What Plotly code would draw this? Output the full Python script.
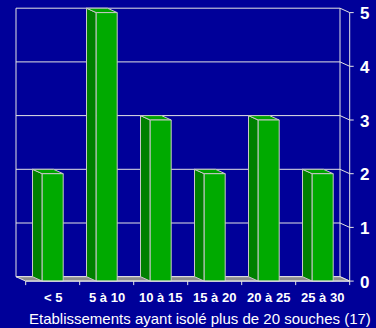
import plotly.graph_objects as go

# ---- data ----
categories = ["< 5", "5 à 10", "10 à 15", "15 à 20", "20 à 25", "25 à 30"]
values = [2, 5, 3, 2, 3, 2]
y_ticks = [0, 1, 2, 3, 4, 5]
title_text = "Etablissements ayant isolé plus de 20 souches (17)"

# ---- styling / projection (data units) ----
W, H = 376, 328
PX_X = 54.0          # px per category
PX_Y = 53.7          # px per value unit
X0_PX = 16.0         # pixel of back wall left edge (x = -0.5)
Y0_PX = 276.7        # pixel of back floor (y = 0)
DX = 9.7 / PX_X      # depth offset (towards viewer)
DY = -4.4 / PX_Y
HW = 10.5 / PX_X     # bar half width
TICK = 4.0 / PX_X

BG = "#000099"
FRONT = "#00AA00"
TOP = "#00A400"
SIDE = "#008000"
EDGE = "#C8C8C8"
GRID = "#E4E4E4"
FLOOR = "#8C8C8C"

xr = [-0.5 - X0_PX / PX_X, -0.5 + (W - X0_PX) / PX_X]
yr = [(Y0_PX - H) / PX_Y, Y0_PX / PX_Y]

n = len(categories)
xl, xrgt = -0.5, n - 0.5
ymax = max(y_ticks)

fig = go.Figure()


def poly(xs, ys, fill, line=EDGE, width=1):
    fig.add_trace(go.Scatter(
        x=list(xs) + [xs[0]], y=list(ys) + [ys[0]], mode="lines",
        fill="toself", fillcolor=fill, line=dict(color=line, width=width),
        hoverinfo="skip", showlegend=False))


def line(xs, ys, color=GRID, width=1):
    fig.add_trace(go.Scatter(
        x=xs, y=ys, mode="lines", line=dict(color=color, width=width),
        hoverinfo="skip", showlegend=False))


# back wall gridlines + slanted connectors + ticks
for v in y_ticks:
    line([xl, xrgt, xrgt + DX, xrgt + DX + TICK], [v, v, v + DY, v + DY])
# back wall verticals
line([xl, xl], [0, ymax])
line([xrgt, xrgt], [0, ymax])

# floor
poly([xl, xrgt, xrgt + DX, xl + DX], [0, 0, DY, DY], FLOOR, line=GRID)

# bars
for i, v in enumerate(values):
    a, b = i - HW, i + HW
    # left side
    poly([a, a + DX, a + DX, a], [0, DY, v + DY, v], SIDE)
    # top
    poly([a, b, b + DX, a + DX], [v, v, v + DY, v + DY], TOP)
    # front
    poly([a + DX, b + DX, b + DX, a + DX], [DY, DY, v + DY, v + DY], FRONT)

# front right axis and front bottom axis
line([xrgt + DX, xrgt + DX], [DY, ymax + DY])
line([xl + DX, xrgt + DX], [DY, DY])
for k in range(n + 1):
    xk = xl + k + DX
    line([xk, xk], [DY, DY - 4.0 / PX_Y])

ann = []
for i, c in enumerate(categories):
    ann.append(dict(x=i + DX, y=DY - 16.0 / PX_Y, text=c, showarrow=False,
                    xanchor="center", yanchor="middle",
                    font=dict(family="Arial, Liberation Sans", size=13,
                              color="white", weight="bold")))
for v in y_ticks:
    ann.append(dict(x=xrgt + DX + TICK + 4.0 / PX_X, y=v + DY - 1.0 / PX_Y,
                    text=str(v), showarrow=False, xanchor="left",
                    yanchor="middle",
                    font=dict(family="Arial, Liberation Sans", size=17,
                              color="white", weight="bold")))
ann.append(dict(x=(200 - X0_PX) / PX_X - 0.5, y=(Y0_PX - 318) / PX_Y,
                text=title_text, showarrow=False, xanchor="center",
                yanchor="middle",
                font=dict(family="Arial, Liberation Sans", size=15,
                          color="white")))

fig.update_layout(
    width=W, height=H, margin=dict(l=0, r=0, t=0, b=0),
    paper_bgcolor=BG, plot_bgcolor=BG, showlegend=False,
    hovermode=False, annotations=ann,
    xaxis=dict(range=xr, visible=False, fixedrange=True),
    yaxis=dict(range=yr, visible=False, fixedrange=True),
)

fig.write_html("out.html", config={"displayModeBar": False})
